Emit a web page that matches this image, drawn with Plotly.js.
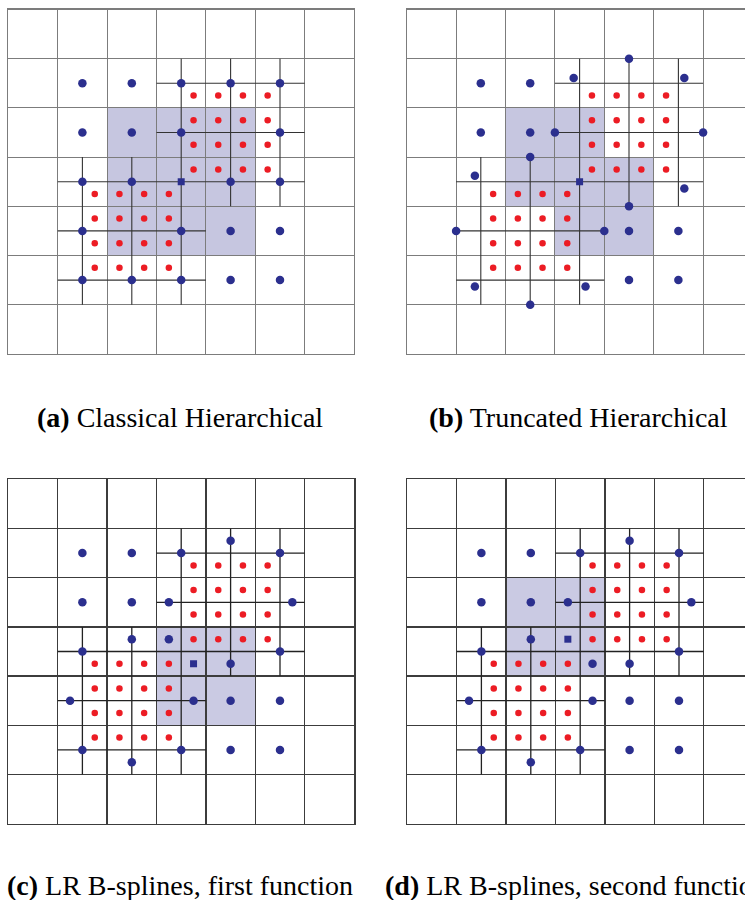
<!DOCTYPE html>
<html>
<head>
<meta charset="utf-8">
<script src="https://cdn.plot.ly/plotly-3.0.1.min.js"></script>
<style>html,body{margin:0;padding:0;background:#fff;}#chart{width:745px;height:900px;}</style>
</head>
<body>
<div id="chart"></div>
<script>
// ---------------- DATA (grid units, y measured downward) ----------------
// Red (fine-level) function centres, shared by all four panels
const redX = [3.75,4.25,4.75,5.25, 3.75,4.25,4.75,5.25, 3.75,4.25,4.75,5.25, 3.75,4.25,4.75,5.25,
              1.75,2.25,2.75,3.25, 1.75,2.25,2.75,3.25, 1.75,2.25,2.75,3.25, 1.75,2.25,2.75,3.25];
const redY = [1.75,1.75,1.75,1.75, 2.25,2.25,2.25,2.25, 2.75,2.75,2.75,2.75, 3.25,3.25,3.25,3.25,
              3.75,3.75,3.75,3.75, 4.25,4.25,4.25,4.25, 4.75,4.75,4.75,4.75, 5.25,5.25,5.25,5.25];

// Refined mesh lines: horizontal [y, x0, x1], vertical [x, y0, y1]
const fineH = [[1.5,3,6],[2.5,3,6],[3.5,1,6],[4.5,1,4],[5.5,1,4]];
const fineV = [[1.5,3,6],[2.5,3,6],[3.5,1,6],[4.5,1,4],[5.5,1,4]];

// (a) Classical Hierarchical
const blueAx = [1.5,2.5,3.5,4.5,5.5, 1.5,2.5,3.5,5.5, 1.5,2.5,4.5,5.5, 1.5,3.5,4.5,5.5, 1.5,2.5,3.5,4.5,5.5];
const blueAy = [1.5,1.5,1.5,1.5,1.5, 2.5,2.5,2.5,2.5, 3.5,3.5,3.5,3.5, 4.5,4.5,4.5,4.5, 5.5,5.5,5.5,5.5,5.5];
const squareAx = [3.5], squareAy = [3.5];
const shadeAx = [2,5,5,2], shadeAy = [2,2,5,5];

// (b) Truncated Hierarchical
const blueBx = [4.5,3.38,5.62,1.5,2.5, 1.5,2.5,3.0,6.0, 2.5,1.38,5.62, 4.5,1.0,4.0,4.5,5.5, 4.5,5.5,1.38,3.62,2.5];
const blueBy = [1.0,1.39,1.39,1.5,1.5, 2.5,2.5,2.5,2.5, 3.0,3.38,3.64, 4.0,4.5,4.5,4.5,4.5, 5.5,5.5,5.63,5.63,6.0];
const squareBx = [3.5], squareBy = [3.5];
const shadeBx = [2,4,4,5,5,3,3,2], shadeBy = [2,2,3,3,5,5,4,4];

// (c) LR B-splines, first function
const blueCx = [4.5,1.5,2.5,3.5,5.5, 1.5,2.5,3.25,5.75, 2.5,3.25, 1.5,5.5, 4.5, 1.25,3.75,4.5,5.5, 1.5,3.5,4.5,5.5, 2.5];
const blueCy = [1.25,1.5,1.5,1.5,1.5, 2.5,2.5,2.5,2.5, 3.25,3.25, 3.5,3.5, 3.75, 4.5,4.5,4.5,4.5, 5.5,5.5,5.5,5.5, 5.75];
const squareCx = [3.75], squareCy = [3.75];
const shadeCx = [3,5,5,3], shadeCy = [3,3,5,5];

// (d) LR B-splines, second function
const blueDx = [4.5,1.5,2.5,3.5,5.5, 1.5,2.5,3.25,5.75, 2.5, 1.5,5.5, 3.75,4.5, 1.25,3.75,4.5,5.5, 1.5,3.5,4.5,5.5, 2.5];
const blueDy = [1.25,1.5,1.5,1.5,1.5, 2.5,2.5,2.5,2.5, 3.25, 3.5,3.5, 3.75,3.75, 4.5,4.5,4.5,4.5, 5.5,5.5,5.5,5.5, 5.75];
const squareDx = [3.25], squareDy = [3.25];
const shadeDx = [2,4,4,2], shadeDy = [2,2,4,4];

const captions = ['<b>(a)</b> Classical Hierarchical', '<b>(b)</b> Truncated Hierarchical',
                  '<b>(c)</b> LR B-splines, first function', '<b>(d)</b> LR B-splines, second function'];

// ---------------- STYLE / LAYOUT ----------------
const BLUE = '#2b2f8e', RED = '#ec1c24', SHADE = '#c6c6e0', SHADE2 = '#cacae3';
const W = 745, H = 900;
const panels = [
  {ax:'',  bx:blueAx, by:blueAy, sx:squareAx, sy:squareAy, px:shadeAx, py:shadeAy, left:8.3,  top:9.5,   grid:'#7c7c7c', gw:1.1, fine:'#333333', fw:1.1, shade:SHADE,  mirrorY:true},
  {ax:'2', bx:blueBx, by:blueBy, sx:squareBx, sy:squareBy, px:shadeBx, py:shadeBy, left:406.7, top:9.5,  grid:'#7c7c7c', gw:1.1, fine:'#333333', fw:1.1, shade:SHADE,  mirrorY:false},
  {ax:'3', bx:blueCx, by:blueCy, sx:squareCx, sy:squareCy, px:shadeCx, py:shadeCy, left:8.3,  top:479.3,  grid:'#3c3c3c', gw:1.4, fine:'#222222', fw:1.3, shade:SHADE2, mirrorY:true},
  {ax:'4', bx:blueDx, by:blueDy, sx:squareDx, sy:squareDy, px:shadeDx, py:shadeDy, left:407.3, top:479.3, grid:'#3c3c3c', gw:1.4, fine:'#222222', fw:1.3, shade:SHADE2, mirrorY:false}
];
const CW = 49.4, CH = 49.2;

const traces = [];
const layout = {
  width: W, height: H, margin: {l:0, r:0, t:0, b:0},
  paper_bgcolor: '#fff', plot_bgcolor: '#fff',
  showlegend: false, shapes: [], annotations: []
};

panels.forEach((p, i) => {
  const xa = 'x' + p.ax, ya = 'y' + p.ax;
  const right = Math.min(p.left + 7 * CW, W);
  const bottom = p.top + 7 * CH;
  const xmax = (right - p.left) / CW;
  const axCommon = {showticklabels:false, ticks:'', zeroline:false, showgrid:true, dtick:1, tick0:0,
                    gridcolor:p.grid, gridwidth:p.gw, showline:true, linecolor:p.grid, linewidth:p.gw, fixedrange:true};
  layout['xaxis' + p.ax] = Object.assign({}, axCommon, {domain:[p.left / W, right / W], range:[0, xmax], anchor: ya, mirror:true});
  layout['yaxis' + p.ax] = Object.assign({}, axCommon, {domain:[1 - bottom / H, 1 - p.top / H], range:[7, 0], anchor: xa, mirror:p.mirrorY});

  // shaded support region
  let path = '';
  p.px.forEach((x, k) => { path += (k === 0 ? 'M' : 'L') + x + ',' + p.py[k]; });
  path += 'Z';
  layout.shapes.push({type:'path', path: path, xref: xa, yref: ya, fillcolor: p.shade, line:{width:0}, layer:'below'});

  // refined mesh lines
  const lx = [], ly = [];
  fineH.forEach(s => { lx.push(s[1], s[2], null); ly.push(s[0], s[0], null); });
  fineV.forEach(s => { lx.push(s[0], s[0], null); ly.push(s[1], s[2], null); });
  traces.push({type:'scatter', mode:'lines', x:lx, y:ly, xaxis:xa, yaxis:ya, line:{color:p.fine, width:p.fw}, hoverinfo:'skip', cliponaxis:true});

  // red functions
  traces.push({type:'scatter', mode:'markers', x:redX, y:redY, xaxis:xa, yaxis:ya,
               marker:{color:RED, size:6.5, line:{width:0}}, cliponaxis:true});
  // blue functions
  traces.push({type:'scatter', mode:'markers', x:p.bx, y:p.by, xaxis:xa, yaxis:ya,
               marker:{color:BLUE, size:8.5, line:{width:0}}, cliponaxis:true});
  // square (refined function)
  traces.push({type:'scatter', mode:'markers', x:p.sx, y:p.sy, xaxis:xa, yaxis:ya,
               marker:{color:BLUE, size:7, symbol:'square', line:{width:0}}, cliponaxis:true});
});

// captions
const capFont = {family:'"Liberation Serif", "Times New Roman", serif', size:28, color:'#000'};
layout.annotations.push({text:captions[0], xref:'paper', yref:'paper', x:180/W, y:1-417/H, xanchor:'center', yanchor:'middle', showarrow:false, font:capFont});
layout.annotations.push({text:captions[1], xref:'paper', yref:'paper', x:578/W, y:1-417/H, xanchor:'center', yanchor:'middle', showarrow:false, font:capFont});
layout.annotations.push({text:captions[2], xref:'paper', yref:'paper', x:180/W, y:1-885/H, xanchor:'center', yanchor:'middle', showarrow:false, font:capFont});
layout.annotations.push({text:captions[3], xref:'paper', yref:'paper', x:383/W, y:1-885/H, xanchor:'left', yanchor:'middle', showarrow:false, font:capFont});

Plotly.newPlot('chart', traces, layout, {staticPlot:true, displayModeBar:false});
</script>
</body>
</html>
